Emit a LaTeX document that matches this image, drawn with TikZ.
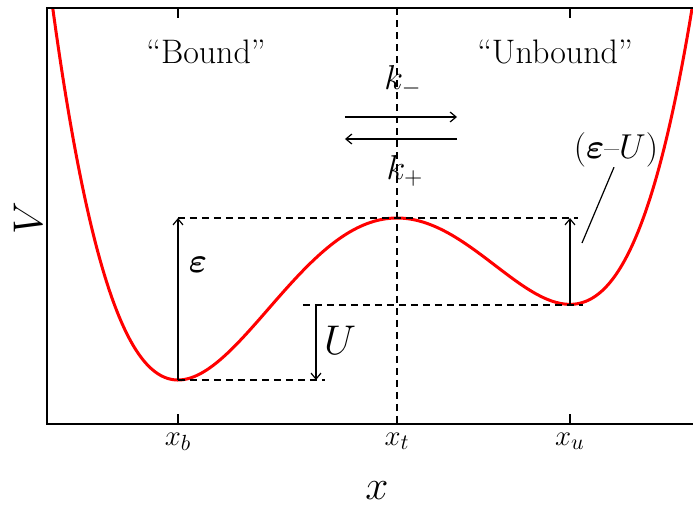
\documentclass[tikz,border=0pt]{standalone}
\usepackage{amsmath,bm}
\usetikzlibrary{arrows.meta, positioning}

\begin{document}
\begin{tikzpicture}[
  x=50pt, y=50pt,
  declare function={pot(\s)=2.87+0.3276*(0.25*(\s)*(\s)*(\s)*(\s)+0.15333*(\s)*(\s)*(\s)-1.89435*(\s)*(\s));},
  frame/.style={line width=1pt},
  potential/.style={red, line width=1.5pt},
  guide/.style={line width=0.6pt, dash pattern=on 3.5pt off 2.5pt},
  gap/.style={-{Straight Barb[length=3pt,width=5pt]}, line width=0.6pt},
  tag/.style={inner sep=0pt, outer sep=0pt}
]
\useasboundingbox (0,0) rectangle (6.93,5.05);

% Axes frame
\coordinate (bl) at (0.47,0.81);
\coordinate (tl) at (0.47,4.97);
\coordinate (br) at (6.93,0.81);
\coordinate (tr) at (6.93,4.97);

% Well and barrier positions
\coordinate (wb) at (1.78,1.25);
\coordinate (wt) at (3.97,2.87);
\coordinate (wu) at (5.70,2.00);

% Potential curve
\begin{scope}
  \clip (bl) rectangle (tr);
  \draw[potential] plot[domain=-3.5:3.0, samples=200, smooth] ({3.97+\x}, {pot(\x)});
\end{scope}

\draw[frame] (br) -- (bl) -- (tl) -- (tr);

% Ticks
\foreach \name/\xx in {b/1.78, u/5.70} {
  \draw[line width=0.6pt] (\xx,0.81) -- (\xx,0.91);
  \draw[line width=0.6pt] (\xx,4.97) -- (\xx,4.87);
  \coordinate (tick\name) at (\xx,0.81);
}
\coordinate (tickt) at (3.97,0.81);
\coordinate (topt) at (3.97,4.97);

\node[tag, font=\fontsize{15}{18}\selectfont, below=4.5pt of tickb] (xblab) {$x_b$};
\node[tag, font=\fontsize{15}{18}\selectfont, below=4.5pt of tickt] (xtlab) {$x_t$};
\node[tag, font=\fontsize{15}{18}\selectfont, below=4.5pt of ticku] (xulab) {$x_u$};

% Axis labels
\node[tag, font=\fontsize{21}{24}\selectfont] (xlab) at (3.77,0.14) {$x$};
\node[tag, font=\fontsize{21}{24}\selectfont, rotate=90] (vlab) at (0.28,2.87) {$V$};

% Guide lines
\coordinate (uend) at (5.78,2.87);
\coordinate (bend) at (3.25,1.25);
\coordinate (ustart) at (3.03,2.00);
\coordinate (uright) at (5.83,2.00);
\draw[guide] (topt) -- (tickt);
\draw[guide] (wb |- wt) -- (uend);
\draw[guide] (wb) -- (bend);
\draw[guide] (ustart) -- (uright);

% Energy gaps
\coordinate (utop) at (3.16,2.00);
\coordinate (ubot) at (3.16,1.25);
\draw[gap] (wb) -- (wb |- wt);
\draw[gap] (utop) -- (ubot);
\draw[gap] (wu) -- (wu |- wt);

\node[tag, font=\fontsize{17.5}{20}\selectfont] (eps) at (1.98,2.40) {$\bm{\varepsilon}$};
\node[tag, font=\fontsize{20.5}{24}\selectfont] (ulab) at (3.40,1.65) {$U$};
\node[tag, font=\fontsize{16}{19}\selectfont] (diff) at (6.16,3.55) {$(\bm{\varepsilon}$--$U)$};
\coordinate (point) at (5.82,2.62);
\draw[line width=0.6pt] ([xshift=-1pt]diff.south) -- (point);

% Rates
\coordinate (kl) at (3.45,3.88);
\coordinate (kr) at (4.57,3.88);
\coordinate (pl) at (3.45,3.66);
\coordinate (pr) at (4.57,3.66);
\draw[gap] (kl) -- (kr);
\draw[gap] (pr) -- (pl);
\node[tag, font=\fontsize{16.5}{19}\selectfont] (kminus) at (4.03,4.24) {$k_-$};
\node[tag, font=\fontsize{16.5}{19}\selectfont] (kplus) at (4.05,3.34) {$k_+$};

% Regions
\node[tag, font=\fontsize{17}{20}\selectfont] (bound) at (2.06,4.53) {``Bound''};
\node[tag, font=\fontsize{17}{20}\selectfont] (unbound) at (5.55,4.53) {``Unbound''};

\end{tikzpicture}
\end{document}
